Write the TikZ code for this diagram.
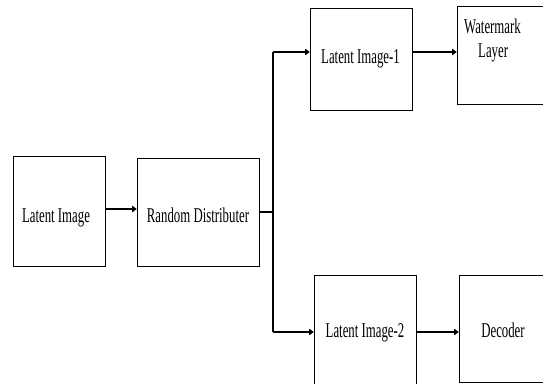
\documentclass[tikz,border=0pt]{standalone}
\usepackage{fontspec}
\setmainfont[FakeStretch=0.61]{Liberation Serif}
\usetikzlibrary{arrows.meta}
\begin{document}
\begin{tikzpicture}[x=1pt,y=-1pt,
  box/.style={draw,line width=1pt,minimum width=#1,inner sep=0pt},
  lbl/.style={anchor=base,inner sep=0pt,font=\fontsize{21}{24}\selectfont},
  conn/.style={line width=1.4pt},
  arr/.style={line width=1.4pt,-{Latex[length=5pt,width=8pt,round]}}]
\useasboundingbox (0,0) rectangle (543,383);
\clip (0,0) rectangle (543,383);
% boxes
\node[box=92pt,minimum height=110pt] (li) at (59,211) {};
\node[box=122pt,minimum height=108pt] (rd) at (198,212) {};
\node[box=102pt,minimum height=102pt] (li1) at (361,59) {};
\node[box=93pt,minimum height=98pt] (wm) at (503.5,55) {};
\node[box=102pt,minimum height=120pt] (li2) at (365,335) {};
\node[box=91pt,minimum height=107pt] (dec) at (504.5,328.5) {};
% texts
\node[lbl] (tli) at (56,222) {Latent Image};
\node[lbl] (trd) at (198,222) {Random Distributer};
\node[lbl] (tli1) at (360.5,63) {Latent Image-1};
\node[lbl,anchor=base west] (twm1) at (464,33) {Watermark};
\node[lbl,anchor=base west] (twm2) at (478,57) {Layer};
\node[lbl] (tli2) at (365,337) {Latent Image-2};
\node[lbl] (tdec) at (503,337) {Decoder};
% connectors
\coordinate (j) at (273,212);
\coordinate (t1) at (273,52);
\coordinate (t2) at (273,332);
\draw[arr] (li.east |- 0,209) -- (rd.west |- 0,209);
\draw[conn] (rd.east |- j) -- (j);
\draw[conn] (t1) -- (t2);
\draw[arr] (t1) -- (t1 -| li1.west);
\draw[arr] (t2) -- (t2 -| li2.west);
\draw[arr] (li1.east |- t1) -- (t1 -| wm.west);
\draw[arr] (li2.east |- t2) -- (t2 -| dec.west);
\end{tikzpicture}
\end{document}
